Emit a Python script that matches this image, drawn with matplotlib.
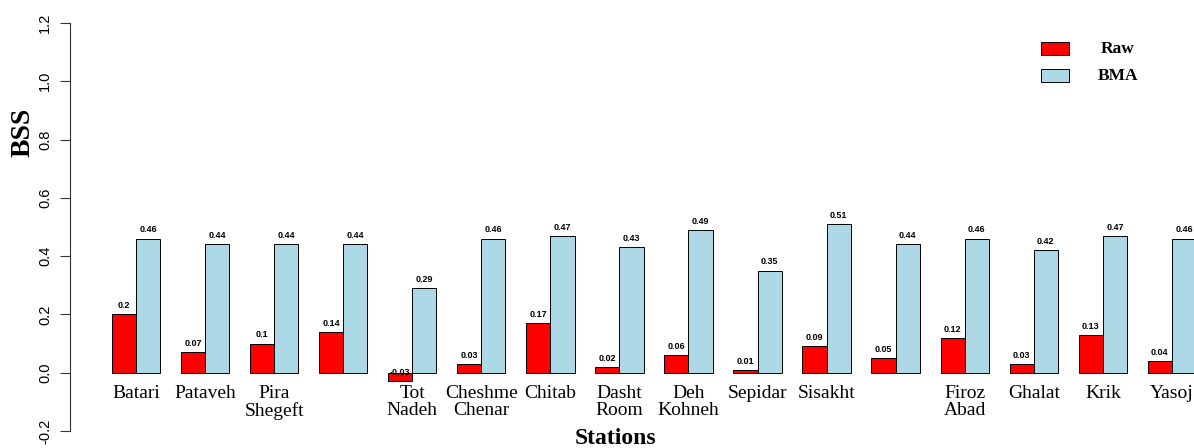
import numpy as np
import matplotlib.pyplot as plt
from matplotlib.patches import Rectangle

# station names as printed under the bars (two groups have no label in the figure)
stations = ['Batari', 'Pataveh', 'Pira\nShegeft', '', 'Tot\nNadeh', 'Cheshme\nChenar',
            'Chitab', 'Dasht\nRoom', 'Deh\nKohneh', 'Sepidar', 'Sisakht', '',
            'Firoz\nAbad', 'Ghalat', 'Krik', 'Yasoj']
raw = [0.20, 0.07, 0.10, 0.14, -0.03, 0.03, 0.17, 0.02, 0.06, 0.01, 0.09, 0.05, 0.12, 0.03, 0.13, 0.04]
bma = [0.46, 0.44, 0.44, 0.44, 0.29, 0.46, 0.47, 0.43, 0.49, 0.35, 0.51, 0.44, 0.46, 0.42, 0.47, 0.46]
yticks = [-0.2, 0.0, 0.2, 0.4, 0.6, 0.8, 1.0, 1.2]
series = ['Raw', 'BMA']
colors = ['#FF0000', '#ADD8E6']

serif = ['Liberation Serif', 'DejaVu Serif']
sans = ['Liberation Sans', 'DejaVu Sans']

W, H = 1194, 448
fig = plt.figure(figsize=(W / 100, H / 100), dpi=100)
ax = fig.add_axes([70 / W, 17 / H, 1 - 70 / W, 408 / H])

x = np.arange(len(stations))
w = 0.35
ax.bar(x - w / 2, raw, w, color=colors[0], edgecolor='black', linewidth=0.7)
ax.bar(x + w / 2, bma, w, color=colors[1], edgecolor='black', linewidth=0.7)

# value labels above bars
for xi, r, b in zip(x, raw, bma):
    ax.text(xi - w / 2, r + 0.03, f'{r:g}', ha='center', va='center',
            fontsize=6.5, fontweight='bold', family=sans)
    ax.text(xi + w / 2, b + 0.03, f'{b:g}', ha='center', va='center',
            fontsize=6.5, fontweight='bold', family=sans)

# station names
for xi, name in zip(x, stations):
    ax.text(xi, -0.041, name, ha='center', va='top', fontsize=14,
            family=serif, linespacing=1.05)

ax.set_xlim(-0.956, 15.32)
ax.set_ylim(-0.2, 1.2)
ax.set_yticks(yticks)
ax.set_yticklabels([f'{t:.1f}' for t in yticks], rotation=90, va='center',
                   fontsize=10.5, family=sans)
ax.tick_params(axis='y', length=7, width=0.8, color='#333333', pad=6)
ax.set_xticks([])
for s in ['top', 'right', 'bottom']:
    ax.spines[s].set_visible(False)
ax.spines['left'].set_bounds(-0.2, 1.2)
ax.spines['left'].set_color('#333333')
ax.spines['left'].set_linewidth(0.8)

fig.text(23 / W, 1 - 132 / H, 'BSS', rotation=90, ha='center', va='center',
         fontsize=20, fontweight='bold', family=serif)
fig.text(615 / W, 1 - 444 / H, 'Stations', ha='center', va='baseline',
         fontsize=17, fontweight='bold', family=serif)

# legend, drawn by hand so the labels are centred like in the original
for k, (lab, col) in enumerate(zip(series, colors)):
    top = 42 + k * 27
    fig.patches.append(Rectangle((1041 / W, 1 - (top + 13.5) / H), 28 / W, 13.5 / H,
                                 transform=fig.transFigure, facecolor=col,
                                 edgecolor='black', linewidth=0.7))
    fig.text(1118 / W, 1 - (top + 7) / H, lab, ha='center', va='center',
             fontsize=12.5, fontweight='bold', family=serif)

fig.savefig('out.png', dpi=100)
